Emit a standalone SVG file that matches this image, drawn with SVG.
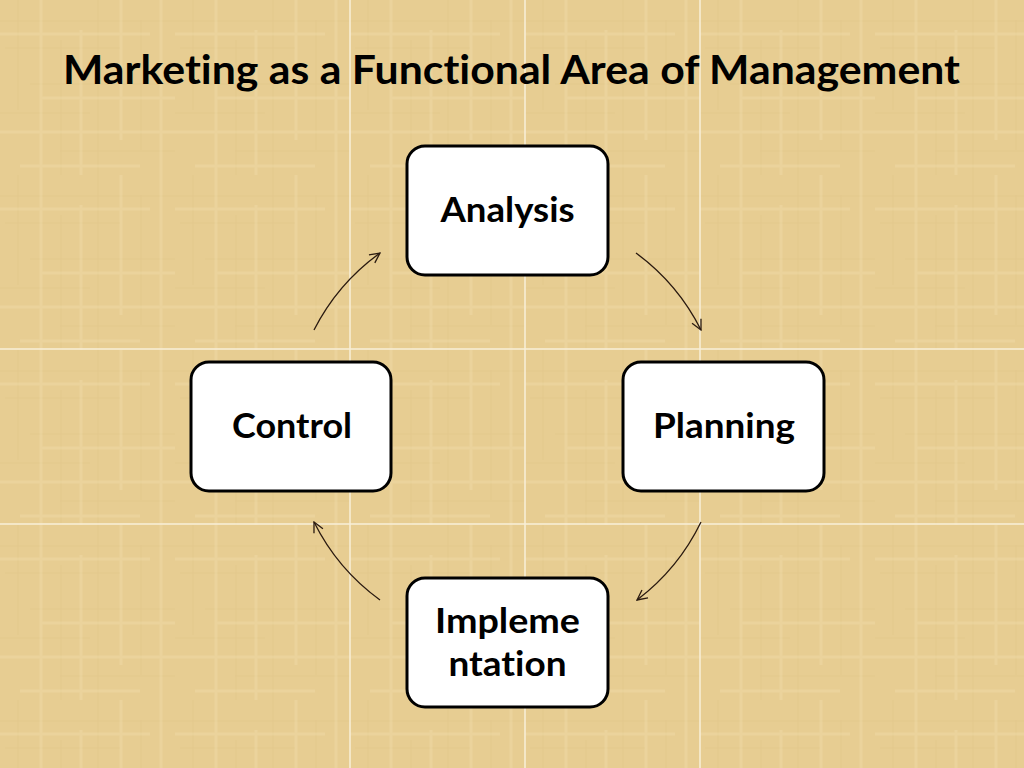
<svg xmlns="http://www.w3.org/2000/svg" width="1024" height="768" viewBox="0 0 1024 768">
<defs>
<style>
.node rect{fill:#fff;stroke:#000;stroke-width:3}
.label{font-family:Lato,"Open Sans","Liberation Sans",sans-serif;font-weight:bold;font-size:34px;fill:#000;text-anchor:middle;font-variant-ligatures:none}
.title{font-family:Lato,"Open Sans","Liberation Sans",sans-serif;font-weight:bold;font-size:41px;fill:#000;font-variant-ligatures:none}
.conn path{fill:none;stroke:#2a1a10;stroke-width:1.3;marker-end:url(#arr)}
.seam{stroke:#f8efd8;stroke-width:1.5}
</style>
<marker id="arr" viewBox="0 0 12 12" refX="11" refY="6" markerWidth="12" markerHeight="12" markerUnits="userSpaceOnUse" orient="auto">
<path d="M1,1 L11,6 L1,11" fill="none" stroke="#2a1a10" stroke-width="1.3"/>
</marker>
<pattern id="tex" width="175" height="175" patternUnits="userSpaceOnUse">
<rect width="175" height="175" fill="#E7CD92"/>
<g stroke="#dcbf80" stroke-width="1" opacity="0.35">
<path d="M0,21H175M5,48H120M30,84H175M0,113H90M60,151H175"/>
<path d="M18,0V110M61,40V175M98,0V175M141,20V150"/>
</g>
<g stroke="#f0dcaa" stroke-width="3" opacity="0.4">
<path d="M0,34H150M40,98H175M0,132H175M20,166H140"/>
<path d="M41,0V175M81,30V175M121,0V140M161,0V175"/>
</g>
</pattern>
</defs>
<rect width="1024" height="768" fill="url(#tex)"/>
<g id="seams">
<line class="seam" x1="350" y1="0" x2="350" y2="768"/>
<line class="seam" x1="525" y1="0" x2="525" y2="768"/>
<line class="seam" x1="700" y1="0" x2="700" y2="768"/>
<line class="seam" x1="0" y1="349" x2="1024" y2="349"/>
<line class="seam" x1="0" y1="524" x2="1024" y2="524"/>
</g>
<text id="title" class="title" x="63" y="84" textLength="897" lengthAdjust="spacingAndGlyphs">Marketing as a Functional Area of Management</text>
<g id="connectors" class="conn">
<path d="M314,330 A215,215 0 0 1 380,253"/>
<path d="M636,253 A215,215 0 0 1 701,330"/>
<path d="M701,522 A215,215 0 0 1 637,600"/>
<path d="M380,600 A215,215 0 0 1 314,522"/>
</g>
<g id="analysis" class="node">
<rect x="407" y="146" width="201" height="129" rx="18"/>
<text class="label" x="507.5" y="222" textLength="134" lengthAdjust="spacingAndGlyphs">Analysis</text>
</g>
<g id="control" class="node">
<rect x="191" y="362" width="200" height="129" rx="18"/>
<text class="label" x="292" y="438" textLength="120" lengthAdjust="spacingAndGlyphs">Control</text>
</g>
<g id="planning" class="node">
<rect x="623" y="362" width="201" height="129" rx="18"/>
<text class="label" x="724" y="438" textLength="142" lengthAdjust="spacingAndGlyphs">Planning</text>
</g>
<g id="implementation" class="node">
<rect x="407" y="578" width="201" height="129" rx="18"/>
<text class="label" x="507.5" y="633" textLength="145" lengthAdjust="spacingAndGlyphs">Impleme</text>
<text class="label" x="507.5" y="676" textLength="118" lengthAdjust="spacingAndGlyphs">ntation</text>
</g>
</svg>
